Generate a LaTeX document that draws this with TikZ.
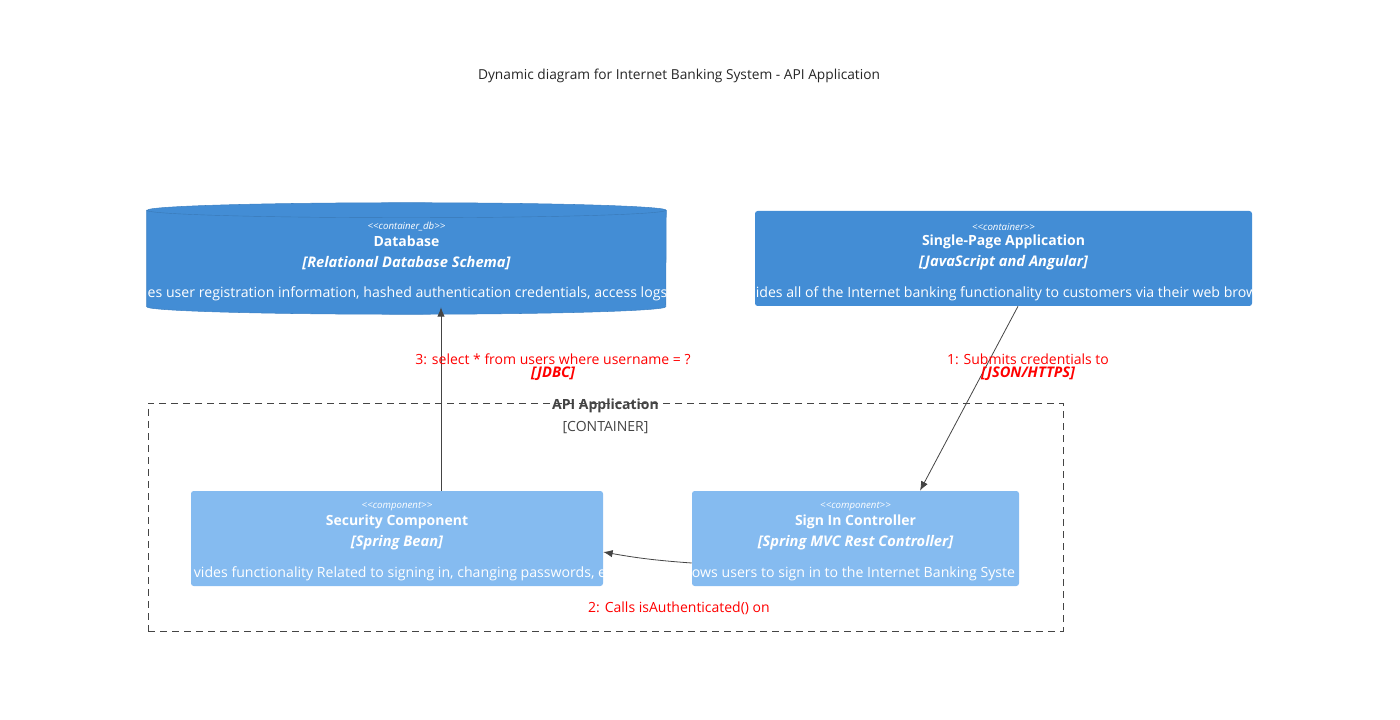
\documentclass[tikz,border=0pt]{standalone}
\usepackage{fontspec}
\setmainfont{Open Sans}
\usepackage{tikz}
\usetikzlibrary{positioning, calc, arrows, arrows.meta}
\definecolor{contblue}{HTML}{438DD5}
\definecolor{compblue}{HTML}{85BBF0}
\definecolor{edgegrey}{HTML}{444444}
\definecolor{relred}{HTML}{FF0000}
\tikzset{>={Latex[length=7pt, width=5.5pt]}}
\tikzset{
	stereo/.style={text=white, inner sep=0pt, font=\fontsize{7.25pt}{8pt}\selectfont\itshape},
	elname/.style={text=white, inner sep=0pt, font=\fontsize{10.5pt}{12pt}\selectfont\bfseries},
	eltech/.style={text=white, inner sep=0pt, font=\fontsize{11pt}{12pt}\selectfont\bfseries\itshape},
	eldesc/.style={text=white, inner sep=0pt, font=\fontsize{10.6pt}{12pt}\selectfont},
	relnote/.style={text=relred, inner sep=0pt, font=\fontsize{10.5pt}{12pt}\selectfont},
	reltech/.style={text=relred, inner sep=0pt, font=\fontsize{11pt}{12pt}\selectfont\bfseries\itshape},
	rel/.style={->, draw=edgegrey, line width=0.6pt},
	elbox/.style={rounded corners=2pt, minimum height=95*0.75pt, inner sep=0pt}
}

\begin{document}
\begin{tikzpicture}[x=0.75pt, y=-0.75pt]
	\useasboundingbox (0,0) rectangle (1400,720);

	\node[inner sep=0pt, text=black!85, font=\fontsize{10.3pt}{12pt}\selectfont] (title) at (679,76) {Dynamic diagram for Internet Banking System - API Application};

	% containers
	\node[minimum width=519*0.75pt, minimum height=111*0.75pt, inner sep=0pt] (db) at (406.5,258.5) {};
	\fill[contblue, draw=contblue!92!black, line width=0.4pt] ($(db.north west)+(0,7.5)$) -- ($(db.south west)+(0,-7.5)$) arc[start angle=180, end angle=0, x radius=259.5, y radius=7.5] -- ($(db.north east)+(0,7.5)$) arc[start angle=0, end angle=-180, x radius=259.5, y radius=7.5] -- cycle;
	\draw[contblue!85!black, line width=0.3pt] ($(db.north west)+(0,7.5)$) arc[start angle=180, end angle=0, x radius=259.5, y radius=7.5];
	\node[elbox, fill=contblue, minimum width=497*0.75pt] (spa) at (1003.5,258.5) {};

	% boundary
	\node[draw=edgegrey, dash pattern=on 5.5pt off 3.5pt, line width=0.6pt, minimum width=915*0.75pt, minimum height=228*0.75pt, inner sep=0pt] (api) at (605.5,517) {};
	\node[inner sep=0pt, text=edgegrey, font=\fontsize{10.5pt}{12pt}\selectfont\bfseries] (api-name) at ($(api.north)+(0,3)$) {API Application};
	\node[inner sep=0pt, text=edgegrey, font=\fontsize{10.5pt}{12pt}\selectfont] (api-type) at ($(api.north)+(0,25)$) {[CONTAINER]};

	% components
	\node[elbox, fill=compblue, minimum width=412*0.75pt] (sec) at (397,538.5) {};
	\node[elbox, fill=compblue, minimum width=327*0.75pt] (sic) at (855.5,538.5) {};

	\begin{scope}
		\node[stereo] (db-st) at ($(db.north)+(0,24)$) {<{}<container\_db>{}>};
		\node[elname] (db-nm) at ($(db.north)+(0,39)$) {Database};
		\node[eltech] (db-te) at ($(db.north)+(0,60)$) {[Relational Database Schema]};
		\clip (db.south west) rectangle (db.north east);
		\node[eldesc] (db-de) at ($(db.north)+(1,91)$) {es user registration information, hashed authentication credentials, access logs};
	\end{scope}
	\begin{scope}
		\node[stereo] (spa-st) at ($(spa.north)+(0,16)$) {<{}<container>{}>};
		\node[elname] (spa-nm) at ($(spa.north)+(0,31)$) {Single-Page Application};
		\node[eltech] (spa-te) at ($(spa.north)+(0,52)$) {[JavaScript and Angular]};
		\clip (spa.south west) rectangle (spa.north east);
		\node[eldesc] (spa-de) at ($(spa.north)+(3,83)$) {ides all of the Internet banking functionality to customers via their web brow};
	\end{scope}
	\begin{scope}
		\node[stereo] (sec-st) at ($(sec.north)+(0,16)$) {<{}<component>{}>};
		\node[elname] (sec-nm) at ($(sec.north)+(0,31)$) {Security Component};
		\node[eltech] (sec-te) at ($(sec.north)+(0,52)$) {[Spring Bean]};
		\clip (sec.south west) rectangle (sec.north east);
		\node[eldesc] (sec-de) at ($(sec.north)+(3,83)$) {vides functionality Related to signing in, changing passwords, e};
	\end{scope}
	\begin{scope}
		\node[stereo] (sic-st) at ($(sic.north)+(0,16)$) {<{}<component>{}>};
		\node[elname] (sic-nm) at ($(sic.north)+(0,31)$) {Sign In Controller};
		\node[eltech] (sic-te) at ($(sic.north)+(0,52)$) {[Spring MVC Rest Controller]};
		\clip (sic.south west) rectangle (sic.north east);
		\node[eldesc] (sic-de) at ($(sic.north)+(-2,83)$) {ows users to sign in to the Internet Banking Syste};
	\end{scope}

	% relations
	\draw[rel] ($(spa.south)+(14.5,0)$) -- ($(sic.north)+(64.5,0)$);
	\node[relnote] (r1) at (1028,359) {1: Submits credentials to};
	\node[reltech] (r1-te) at (1028,374) {[JSON/HTTPS]};

	\draw[rel] ($(sic.west)+(0,24.5)$) to[bend left=3] ($(sec.east)+(0,13.5)$);
	\node[relnote] (r2) at (679,608) {2: Calls isAuthenticated() on};

	\draw[rel] ($(sec.north)+(44,0)$) -- ($(db.south)+(34.5,-7)$);
	\node[relnote] (r3) at (553,359) {3: select * from users where username = ?};
	\node[reltech] (r3-te) at (553,374) {[JDBC]};
\end{tikzpicture}
\end{document}
